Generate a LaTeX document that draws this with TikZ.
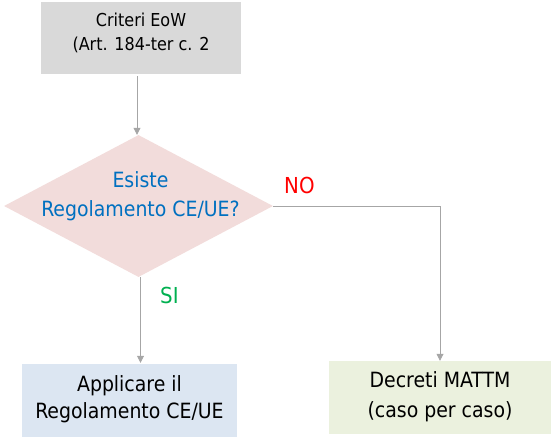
\documentclass[tikz,border=0pt]{standalone}
\usepackage{fontspec}
\setmainfont{DejaVu Sans Condensed}
\usetikzlibrary{shapes.geometric,arrows.meta}
\definecolor{boxgray}{HTML}{D9D9D9}
\definecolor{diafill}{HTML}{F2DCDB}
\definecolor{bluefill}{HTML}{DCE6F2}
\definecolor{greenfill}{HTML}{EBF1DE}
\definecolor{linegray}{HTML}{A6A6A6}
\definecolor{txtblue}{HTML}{0070C0}
\definecolor{txtred}{HTML}{FF0000}
\definecolor{txtgreen}{HTML}{00B050}
\tikzset{
  x=1pt, y=-1pt,
  boxshape/.style={rectangle, inner sep=0pt, draw=none},
  txt/.style={align=center, inner sep=0pt},
  arr/.style={draw=linegray, line width=0.8pt, -{Triangle[length=7pt,width=7pt]}},
}
\begin{document}
\begin{tikzpicture}
\useasboundingbox (0,0) rectangle (553,439);
% top box
\node[boxshape, fill=boxgray, minimum width=200pt, minimum height=72pt] (top) at (141,38) {};
\node[txt, font=\fontsize{17.8}{24}\selectfont] (toptext) at (141,33) {Criteri EoW\\(Art. 184-ter c. 2};
% diamond
\node[diamond, fill=diafill, inner sep=0pt, minimum width=269pt, minimum height=142pt] (dia) at (138.5,206) {};
\node[txt, text=txtblue, font=\fontsize{21}{29}\selectfont] (diatext) at (140.5,196.5) {Esiste\\Regolamento CE/UE?};
% bottom boxes
\node[boxshape, fill=bluefill, minimum width=215pt, minimum height=73pt] (left) at (129.5,400.5) {};
\node[txt, font=\fontsize{21}{27}\selectfont] (lefttext) at (129.5,399) {Applicare il\\Regolamento CE/UE};
\node[boxshape, fill=greenfill, minimum width=222pt, minimum height=73pt] (right) at (440,397.5) {};
\node[txt, font=\fontsize{21}{30}\selectfont] (righttext) at (440,396.5) {Decreti MATTM\\(caso per caso)};
% labels
\node[txt, text=txtred, anchor=base west, font=\fontsize{22}{24}\selectfont] (no) at (284,193) {NO};
\node[txt, text=txtgreen, anchor=base west, font=\fontsize{22}{24}\selectfont] (si) at (160,303) {SI};
% connectors
\coordinate (topout) at (137,76);
\coordinate (botout) at (140.5,277);
\draw[arr] (topout) -- (topout |- dia.north);
\draw[arr] (dia.east) -| (right.north);
\draw[arr] (botout) -- ([yshift=1pt]botout |- left.north);
\end{tikzpicture}
\end{document}
